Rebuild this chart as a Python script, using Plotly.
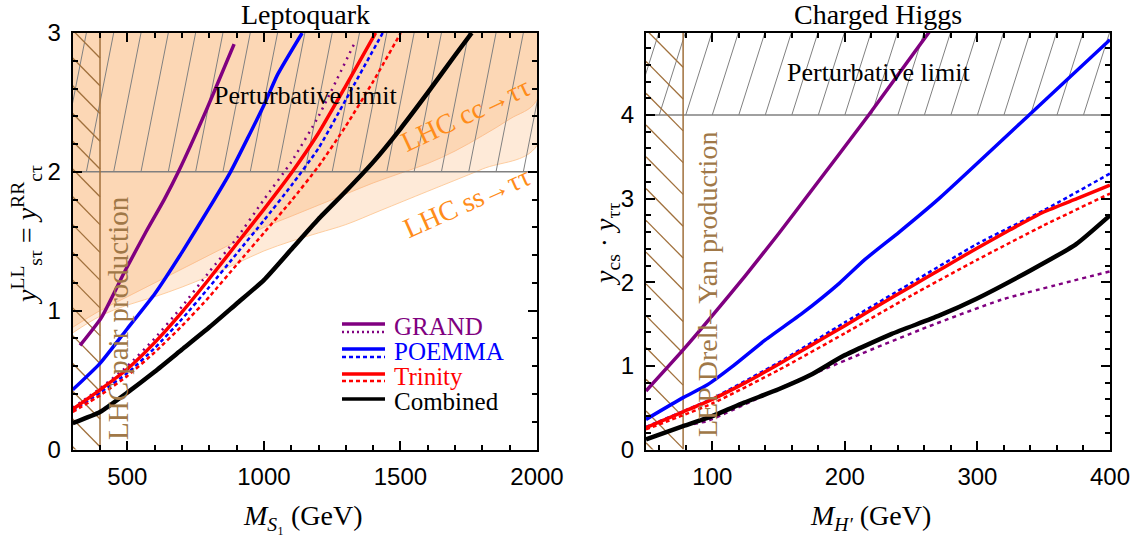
import numpy as np
import plotly.graph_objects as go

# ---------------- Left panel (Leptoquark) data ----------------
lq_grand_x = [327, 405, 490, 569, 635, 687, 786, 891]
lq_grand_y = [0.75, 0.95, 1.28, 1.57, 1.80, 2.00, 2.43, 2.92]
lq_grand_d_x = [300, 400, 500, 600, 700, 800, 900, 1000, 1100, 1200, 1330]
lq_grand_d_y = [0.30, 0.44, 0.60, 0.80, 1.03, 1.28, 1.52, 1.80, 2.07, 2.40, 2.92]
lq_poemma_x = [300, 400, 500, 600, 700, 800, 878, 1000, 1050, 1140]
lq_poemma_y = [0.43, 0.62, 0.87, 1.12, 1.42, 1.74, 2.00, 2.48, 2.70, 3.0]
lq_poemma_d_x = [300, 400, 500, 600, 700, 800, 900, 1000, 1100, 1200, 1300, 1435]
lq_poemma_d_y = [0.28, 0.41, 0.55, 0.73, 0.94, 1.17, 1.41, 1.65, 1.90, 2.17, 2.52, 3.0]
lq_trinity_x = [300, 400, 500, 600, 700, 800, 900, 1000, 1100, 1200, 1300, 1409]
lq_trinity_y = [0.29, 0.43, 0.58, 0.77, 0.99, 1.23, 1.48, 1.73, 1.99, 2.28, 2.62, 3.0]
lq_trinity_d_x = [300, 400, 500, 600, 700, 800, 900, 1000, 1100, 1200, 1300, 1400, 1501]
lq_trinity_d_y = [0.27, 0.39, 0.53, 0.70, 0.89, 1.10, 1.33, 1.56, 1.79, 2.04, 2.33, 2.65, 3.0]
lq_comb_x = [300, 400, 500, 600, 700, 800, 900, 1000, 1100, 1200, 1300, 1400, 1500, 1600, 1700, 1761]
lq_comb_y = [0.19, 0.27, 0.41, 0.56, 0.72, 0.88, 1.05, 1.22, 1.44, 1.66, 1.86, 2.07, 2.31, 2.57, 2.84, 3.0]

# LHC exclusion boundaries (excluded above)
lhc_cc_x = [300, 400, 500, 600, 700, 800, 900, 1000, 1100, 1200, 1300, 1400, 1500, 1600, 1700, 1800, 1900, 2000]
lhc_cc_y = [0.88, 1.00, 1.10, 1.20, 1.30, 1.40, 1.50, 1.60, 1.68, 1.76, 1.84, 1.92, 1.99, 2.06, 2.15, 2.26, 2.38, 2.52]
lhc_ss_x = [300, 400, 500, 600, 700, 800, 900, 1000, 1100, 1200, 1300, 1425, 1600, 1800, 2000]
lhc_ss_y = [0.84, 0.96, 1.04, 1.10, 1.17, 1.25, 1.34, 1.43, 1.50, 1.56, 1.62, 1.72, 1.86, 2.02, 2.19]

lq_pert_limit = 2.0
lq_pair_limit = 400
lq_xrange = [300, 2000]
lq_yrange = [0, 3]

# ---------------- Right panel (Charged Higgs) data ----------------
ch_grand_x = [50, 78, 100, 125, 150, 175, 218, 264]
ch_grand_y = [0.70, 1.19, 1.60, 2.08, 2.58, 3.10, 4.0, 5.0]
ch_grand_d_x = [80, 96, 152, 207, 263, 318, 400]
ch_grand_d_y = [0.29, 0.34, 0.74, 1.11, 1.47, 1.79, 2.13]
ch_poemma_x = [50, 78, 96, 115, 140, 168, 196, 215, 241, 271, 339, 400]
ch_poemma_y = [0.36, 0.62, 0.77, 0.99, 1.31, 1.63, 1.99, 2.27, 2.60, 3.0, 4.0, 4.90]
ch_poemma_d_x = [50, 100, 150, 200, 250, 300, 350, 400]
ch_poemma_d_y = [0.27, 0.61, 1.04, 1.52, 1.99, 2.46, 2.86, 3.30]
ch_trinity_x = [50, 78, 100, 125, 150, 175, 200, 225, 250, 275, 300, 325, 350, 375, 400]
ch_trinity_y = [0.26, 0.45, 0.60, 0.80, 1.02, 1.25, 1.48, 1.72, 1.95, 2.18, 2.41, 2.63, 2.84, 3.0, 3.16]
ch_trinity_d_x = [50, 100, 150, 200, 250, 300, 350, 400]
ch_trinity_d_y = [0.24, 0.55, 0.95, 1.39, 1.84, 2.27, 2.68, 3.06]
ch_comb_x = [50, 78, 100, 124, 150, 174, 199, 235, 271, 299, 341, 374, 400]
ch_comb_y = [0.12, 0.28, 0.40, 0.56, 0.72, 0.89, 1.12, 1.38, 1.60, 1.80, 2.15, 2.45, 2.80]

ch_pert_limit = 4.0
ch_lep_limit = 78
ch_xrange = [50, 400]
ch_yrange = [0, 4.98]

# ---------------- styling ----------------
PURPLE = "#800080"
BLUE = "#0000ff"
RED = "#ff0000"
BLACK = "#000000"
BROWN = "#a0703c"
BROWN_TXT = "#a07848"
ORANGE = "#ff8c1a"
GRAY = "#808080"
SERIF = "Liberation Serif"
SANS = "Liberation Sans Narrow, Liberation Sans, Arial"

W, H = 1137, 536


def px(x):
    return x / W


def py(y):
    return 1 - y / H


L_DOM = [px(72.7), px(537)]
R_DOM = [px(646), px(1110)]
Y_DOM = [py(449.5), py(33)]

fig = go.Figure()


def add(x, y, color, width, dash="solid", ax="x", ay="y"):
    fig.add_trace(go.Scatter(x=x, y=y, mode="lines", xaxis=ax, yaxis=ay,
                             line=dict(color=color, width=width, dash=dash, shape="spline", smoothing=0.5),
                             showlegend=False, hoverinfo="skip"))


# LHC shaded regions (left)
fig.add_trace(go.Scatter(x=lhc_ss_x + [lq_xrange[1], lq_xrange[0]], y=lhc_ss_y + [3.5, 3.5],
                         fill="toself", fillcolor="rgb(254,234,216)", mode="lines",
                         line=dict(color="rgba(253,200,150,0.9)", width=1, shape="spline"),
                         showlegend=False, hoverinfo="skip", xaxis="x", yaxis="y"))
fig.add_trace(go.Scatter(x=lhc_cc_x + [lq_xrange[1], lq_xrange[0]], y=lhc_cc_y + [3.5, 3.5],
                         fill="toself", fillcolor="rgb(252,215,181)", mode="lines",
                         line=dict(color="rgba(252,190,140,0.9)", width=1, shape="spline"),
                         showlegend=False, hoverinfo="skip", xaxis="x", yaxis="y"))


def hatch(x0s, y0, y1, dx, ax, ay, color, width=1.0):
    xs, ys = [], []
    for x0 in x0s:
        xs += [x0, x0 + dx, None]
        ys += [y0, y1, None]
    fig.add_trace(go.Scatter(x=xs, y=ys, mode="lines", xaxis=ax, yaxis=ay,
                             line=dict(color=color, width=width), showlegend=False, hoverinfo="skip"))


def hatch_y(y0s, x0, x1, dy, ax, ay, color, width=1.3):
    xs, ys = [], []
    for y0 in y0s:
        xs += [x0, x1, None]
        ys += [y0, y0 - dy, None]
    fig.add_trace(go.Scatter(x=xs, y=ys, mode="lines", xaxis=ax, yaxis=ay,
                             line=dict(color=color, width=width), showlegend=False, hoverinfo="skip"))


# perturbative hatch
hatch(np.arange(150, 2100, 100), lq_pert_limit, 3.0, 100, "x", "y", GRAY)
hatch(np.arange(20, 420, 20), ch_pert_limit, 5.0, 20, "x2", "y2", GRAY)
fig.add_trace(go.Scatter(x=lq_xrange, y=[lq_pert_limit] * 2, mode="lines", line=dict(color=GRAY, width=1.5),
                         showlegend=False, hoverinfo="skip", xaxis="x", yaxis="y"))
fig.add_trace(go.Scatter(x=ch_xrange, y=[ch_pert_limit] * 2, mode="lines", line=dict(color=GRAY, width=1.5),
                         showlegend=False, hoverinfo="skip", xaxis="x2", yaxis="y2"))

# brown hatch (collider limits)
hatch_y(np.arange(0.02, 3.6, 0.2), lq_xrange[0], lq_pair_limit, 0.2, "x", "y", BROWN)
hatch_y(5.02 - 0.38 * np.arange(0, 16), ch_xrange[0], ch_lep_limit, 0.45, "x2", "y2", BROWN)
fig.add_trace(go.Scatter(x=[lq_pair_limit] * 2, y=lq_yrange, mode="lines", line=dict(color=BROWN, width=1.5),
                         showlegend=False, hoverinfo="skip", xaxis="x", yaxis="y"))
fig.add_trace(go.Scatter(x=[ch_lep_limit] * 2, y=ch_yrange, mode="lines", line=dict(color=BROWN, width=1.5),
                         showlegend=False, hoverinfo="skip", xaxis="x2", yaxis="y2"))

# curves left
add(lq_grand_d_x, lq_grand_d_y, PURPLE, 2.5, "2px,5px")
add(lq_poemma_d_x, lq_poemma_d_y, BLUE, 2.5, "4px,3px")
add(lq_trinity_d_x, lq_trinity_d_y, RED, 2.5, "4px,3px")
add(lq_grand_x, lq_grand_y, PURPLE, 3.5)
add(lq_poemma_x, lq_poemma_y, BLUE, 3.5)
add(lq_trinity_x, lq_trinity_y, RED, 3.5)
add(lq_comb_x, lq_comb_y, BLACK, 4.5)

# curves right
add(ch_grand_d_x, ch_grand_d_y, PURPLE, 2.5, "4px,4px", "x2", "y2")
add(ch_poemma_d_x, ch_poemma_d_y, BLUE, 2.5, "4px,3px", "x2", "y2")
add(ch_trinity_d_x, ch_trinity_d_y, RED, 2.5, "4px,3px", "x2", "y2")
add(ch_grand_x, ch_grand_y, PURPLE, 3.5, "solid", "x2", "y2")
add(ch_poemma_x, ch_poemma_y, BLUE, 3.5, "solid", "x2", "y2")
add(ch_trinity_x, ch_trinity_y, RED, 3.5, "solid", "x2", "y2")
add(ch_comb_x, ch_comb_y, BLACK, 4.5, "solid", "x2", "y2")


def axis(dom, rng, dtick, mdtick, tickvals=None, anchor="y"):
    d = dict(domain=dom, range=rng, showline=True, linecolor="black", linewidth=2, mirror="allticks",
             ticks="inside", ticklen=9, tickwidth=1.8, tickcolor="black", showgrid=False, zeroline=False,
             automargin=False,
             tickfont=dict(family=SANS, size=24, color="black"), anchor=anchor,
             minor=dict(dtick=mdtick, ticks="inside", ticklen=5, tickwidth=1.5, tickcolor="black", showgrid=False))
    if tickvals is not None:
        d["tickvals"] = tickvals
    else:
        d["dtick"] = dtick
    return d


xa = axis(L_DOM, lq_xrange, None, 100, [500, 1000, 1500, 2000], "y")
xa["minor"]["tick0"] = 0
xa["ticklabelstandoff"] = 5
ya = axis(Y_DOM, lq_yrange, 1, 0.2, None, "x")
ya["ticklabelstandoff"] = 5
xb = axis(R_DOM, ch_xrange, None, 20, [100, 200, 300, 400], "y2")
xb["minor"]["tick0"] = 0
xb["ticklabelstandoff"] = 5
yb = axis(Y_DOM, ch_yrange, None, 0.2, [0, 1, 2, 3, 4], "x2")
yb["minor"]["tick0"] = 0
yb["ticklabelstandoff"] = 5

fig.update_layout(xaxis=xa, yaxis=ya, xaxis2=xb, yaxis2=yb)

annots = [
    ("Leptoquark", 305, 14, 0, "black", 28),
    ("Charged Higgs", 878, 14, 0, "black", 28),
    ("Perturbative limit", 305, 96, 0, "black", 26),
    ("Perturbative limit", 878, 73, 0, "black", 26),
    ("LHC cc→ττ", 465, 114, -25, ORANGE, 28),
    ("LHC ss→ττ", 466, 202, -24, ORANGE, 28),
    ("LHC pair production", 118, 318, -90, BROWN_TXT, 29),
    ("LEP Drell– Yan production", 707, 285, -90, BROWN_TXT, 28),
    ("<i>M</i><sub><i>S</i>₁</sub> (GeV)", 303, 517, 0, "black", 28),
    ("<i>M</i><sub><i>H′</i></sub> (GeV)", 870, 517, 0, "black", 28),
    ("<i>y</i><sup>LL</sup><sub>sτ</sub> = <i>y</i><sup>RR</sup><sub>cτ</sub>", 26, 235, -90, "black", 28),
    ("<i>y</i><sub>cs</sub> · <i>y</i><sub>ττ</sub>", 606, 245, -90, "black", 28),
]
for txt, x, y, ang, col, sz in annots:
    fig.add_annotation(text=txt, x=px(x), y=py(y), xref="paper", yref="paper", showarrow=False,
                       textangle=ang, xanchor="center", yanchor="middle",
                       font=dict(family=SERIF, size=sz, color=col))

# legend (manual)
legend_items = [
    ("GRAND", PURPLE, 324, 332, "2px,3px"),
    ("POEMMA", BLUE, 349, 357, "4px,3px"),
    ("Trinity", RED, 374, 381, "4px,3px"),
    ("Combined", BLACK, 399, None, None),
]
for name, col, ys, yd, dash in legend_items:
    fig.add_shape(type="line", xref="paper", yref="paper", x0=px(342), x1=px(385), y0=py(ys), y1=py(ys),
                  line=dict(color=col, width=3.5))
    if yd is not None:
        fig.add_shape(type="line", xref="paper", yref="paper", x0=px(342), x1=px(385), y0=py(yd), y1=py(yd),
                      line=dict(color=col, width=2.5, dash=dash))
    fig.add_annotation(text=name, x=px(392), y=py(ys + 2), xref="paper", yref="paper", showarrow=False,
                       xanchor="left", yanchor="middle", font=dict(family=SERIF, size=25, color=col))

fig.update_layout(width=W, height=H, margin=dict(l=0, r=0, t=0, b=0),
                  paper_bgcolor="white", plot_bgcolor="white", showlegend=False)

# remove the browser's default page margin so the figure fills the window exactly
fig.write_html("out.html", config={"displayModeBar": False},
               post_script="document.body.style.margin='0px';")
